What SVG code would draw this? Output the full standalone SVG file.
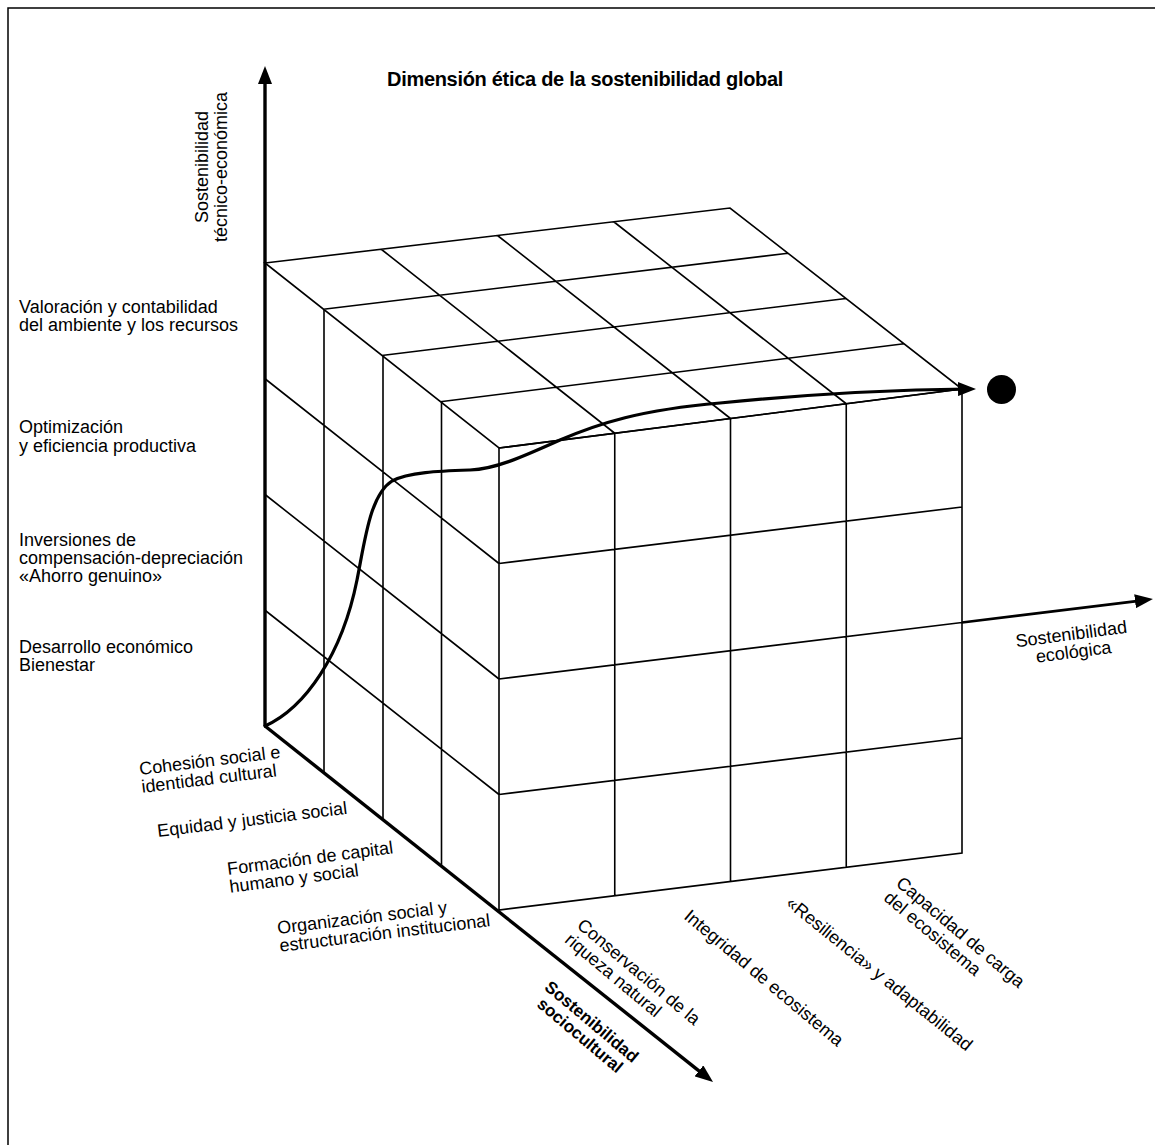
<svg xmlns="http://www.w3.org/2000/svg" width="1155" height="1145" viewBox="0 0 1155 1145">
  <style>
    .bg { fill: #ffffff; }
    .frame { fill: none; stroke: #000; stroke-width: 1.5; }
    .grid { fill: none; stroke: #000; stroke-width: 1.6; stroke-linejoin: miter; }
    .axis { fill: none; stroke: #000; stroke-width: 3.4; }
    .axis-eco { fill: none; stroke: #000; stroke-width: 2.7; }
    .curve { fill: none; stroke: #000; stroke-width: 3.2; stroke-linecap: round; }
    text { font-family: "Liberation Sans", Arial, sans-serif; fill: #000; }
    .title { font-size: 20px; font-weight: bold; letter-spacing: -0.3px; }
    .lbl { font-size: 18px; }
    .lblb { font-size: 17px; font-weight: bold; }
  </style>
  <defs>
    <marker id="ah" markerUnits="userSpaceOnUse" markerWidth="18" markerHeight="14" viewBox="0 0 18 14" refX="8" refY="7" orient="auto">
      <path d="M0,0 L18,7 L0,14 Z" fill="#000"/>
    </marker>
  </defs>

  <rect class="bg" x="0" y="0" width="1155" height="1145"/>
  <path class="frame" d="M8,1145 V8 H1155"/>

  <g id="cube">
    <g id="top-face">
      <path class="grid" d="M265,263 L730,208 L962,389 L499,448 Z
        M323.5,309.25 L788,253.25 M381.75,355.5 L846,298.5 M440.25,401.75 L904,343.75
        M381.25,249.25 L614.75,433.25 M497.5,235.5 L730.5,418.5 M613.75,221.75 L846.25,403.75"/>
    </g>
    <g id="left-face">
      <path class="grid" d="M324,309.6 L324,772.4 M383,356.2 L383,818.8 M441.5,402.5 L441.5,864.8
        M265,378.75 L499,563.5 M265,494.5 L499,679 M265,610.25 L499,794.5"/>
    </g>
    <g id="front-face">
      <path class="grid" d="M499,448 L962,389 L962,853 L499,910 Z
        M614.75,433.25 L614.75,895.75 M730.5,418.5 L730.5,881.5 M846.25,403.75 L846.25,867.25
        M499,563.5 L962,507 M499,679 L962,622.5 M499,794.5 L962,738"/>
    </g>
  </g>

  <g id="connectors">
    <path id="curve" class="curve" marker-end="url(#ah)" d="M265,726 C305,708 342,655 357,580 C365,540 370,495 392,481 C408,472 440,471 470,470 C495,469 520,458 560,440 C600,423 640,410 720,403 C800,395 880,390 966,389"/>
    <path id="axis-tecno" class="axis" marker-end="url(#ah)" d="M265,726 L265,76"/>
    <path id="axis-socio" class="axis" marker-end="url(#ah)" d="M265,726 L705.2,1075.8"/>
    <path id="axis-eco" class="axis-eco" marker-end="url(#ah)" d="M962,622.5 L1143,600.3"/>
  </g>

  <g id="goal">
    <circle cx="1001.5" cy="389.5" r="14.5" fill="#000"/>
  </g>

  <g id="title">
    <text class="title" x="387" y="86">Dimensión ética de la sostenibilidad global</text>
  </g>

  <g id="label-axis-tecno">
    <text class="lbl" transform="translate(208,167) rotate(-90)" text-anchor="middle"><tspan x="0" y="0">Sostenibilidad</tspan><tspan x="0" y="19">técnico-económica</tspan></text>
  </g>

  <g id="labels-tecno">
    <text class="lbl" x="19" y="313">Valoración y contabilidad</text>
    <text class="lbl" x="19" y="331">del ambiente y los recursos</text>
    <text class="lbl" x="19" y="433">Optimización</text>
    <text class="lbl" x="19" y="452">y eficiencia productiva</text>
    <text class="lbl" x="19" y="546">Inversiones de</text>
    <text class="lbl" x="19" y="564">compensación-depreciación</text>
    <text class="lbl" x="19" y="582">«Ahorro genuino»</text>
    <text class="lbl" x="19" y="653">Desarrollo económico</text>
    <text class="lbl" x="19" y="671">Bienestar</text>
  </g>

  <g id="labels-socio">
    <text class="lbl" transform="translate(140,775) rotate(-7)"><tspan x="0" y="0">Cohesión social e</tspan><tspan x="0" y="18">identidad cultural</tspan></text>
    <text class="lbl" transform="translate(158,837) rotate(-7)">Equidad y justicia social</text>
    <text class="lbl" transform="translate(228,875) rotate(-7.5)"><tspan x="0" y="0">Formación de capital</tspan><tspan x="0" y="18">humano y social</tspan></text>
    <text class="lbl" transform="translate(278,934) rotate(-7)"><tspan x="0" y="0">Organización social y</tspan><tspan x="0" y="18">estructuración institucional</tspan></text>
  </g>

  <g id="label-axis-socio">
    <text class="lblb" transform="translate(588,1026) rotate(40)" text-anchor="middle"><tspan x="0" y="0">Sostenibilidad</tspan><tspan x="0" y="18">sociocultural</tspan></text>
  </g>

  <g id="labels-eco">
    <text class="lbl" transform="translate(576,927) rotate(40)"><tspan x="0" y="0">Conservación de la</tspan><tspan x="0" y="19">riqueza natural</tspan></text>
    <text class="lbl" transform="translate(683,918) rotate(40)">Integridad de ecosistema</text>
    <text class="lbl" transform="translate(785,905) rotate(39)">«Resiliencia» y adaptabilidad</text>
    <text class="lbl" transform="translate(895,885) rotate(40)"><tspan x="0" y="0">Capacidad de carga</tspan><tspan x="0" y="19">del ecosistema</tspan></text>
  </g>

  <g id="label-axis-eco">
    <text class="lbl" transform="translate(1072,640) rotate(-7.5)" text-anchor="middle"><tspan x="0" y="0">Sostenibilidad</tspan><tspan x="0" y="18">ecológica</tspan></text>
  </g>
</svg>
